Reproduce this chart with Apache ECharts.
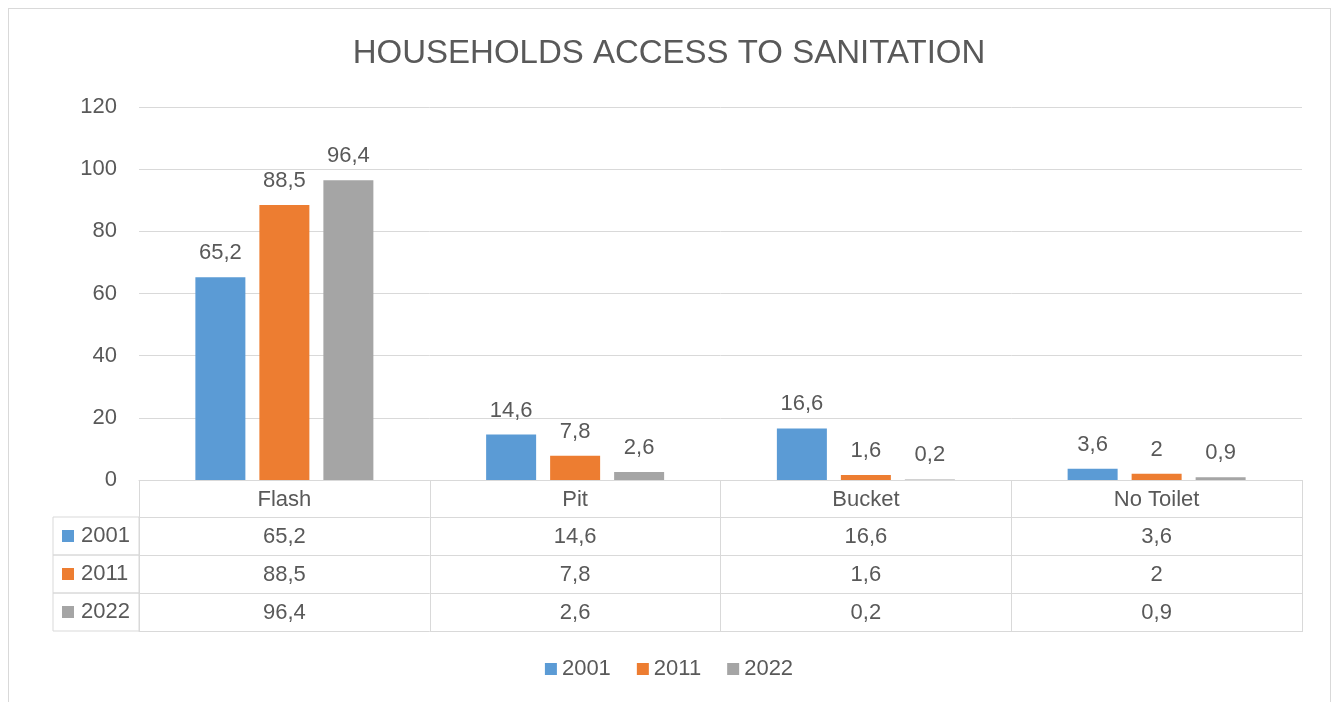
<!DOCTYPE html>
<html>
<head>
<meta charset="utf-8">
<title>Households access to sanitation</title>
<script src="https://cdn.jsdelivr.net/npm/echarts@6/dist/echarts.min.js"></script>
<style>
  html, body { margin: 0; padding: 0; background: #fff; }
  #chart { width: 1338px; height: 702px; }
  #frame { position: absolute; left: 8px; top: 8px; width: 1323px; height: 710px;
           border: 1px solid #d9d9d9; box-sizing: border-box; pointer-events: none; }
</style>
</head>
<body>
<div id="chart"></div>
<div id="frame"></div>
<script>
// data
var categories = ['Flash', 'Pit', 'Bucket', 'No Toilet'];
var years = ['2001', '2011', '2022'];
var v2001 = [65.2, 14.6, 16.6, 3.6];
var v2011 = [88.5, 7.8, 1.6, 2];
var v2022 = [96.4, 2.6, 0.2, 0.9];
var yTicks = [0, 20, 40, 60, 80, 100, 120];

var values = [v2001, v2011, v2022];
var colors = ['#5B9BD5', '#ED7D31', '#A5A5A5'];
var txt = '#595959', line = '#D9D9D9', font = 'Liberation Sans, Arial, sans-serif';
var fs = 22;

// 65.2 -> 65,2
function fmt(v) { return String(v).replace('.', ','); }

var rowH = 38, headH = 37;

var xAxes = [
  { // main axis, ticks make the table's vertical lines
    type: 'category', data: categories, position: 'bottom',
    axisLine: { show: true, lineStyle: { color: line } },
    axisTick: { show: true, length: headH + rowH * 3 + 1, lineStyle: { color: line } },
    axisLabel: { show: false }
  },
  { // header row (category names)
    type: 'category', data: categories, position: 'bottom', offset: headH,
    axisLine: { show: true, lineStyle: { color: line } },
    axisTick: { show: false },
    axisLabel: { inside: true, interval: 0, margin: 6, color: txt, fontSize: fs, fontFamily: font, lineHeight: fs }
  }
];
years.forEach(function (y, i) {
  xAxes.push({
    type: 'category', data: categories, position: 'bottom', offset: headH + rowH * (i + 1),
    axisLine: { show: true, lineStyle: { color: line } },
    axisTick: { show: false },
    axisLabel: {
      inside: true, interval: 0, margin: 7, color: txt, fontSize: fs, fontFamily: font, lineHeight: fs,
      formatter: function (val, idx) { return fmt(values[i][idx]); }
    },
    // left column cell of the data table
    name: '{sq|}{t|' + y + '}',
    nameLocation: 'start',
    nameGap: 86,
    nameTextStyle: {
      align: 'left', verticalAlign: 'bottom',
      padding: [0, 0, 0, 9], lineHeight: rowH,
      borderColor: line, borderWidth: 1,
      rich: {
        sq: { width: 12, height: 12, backgroundColor: colors[i] },
        t: { width: 58, color: txt, fontSize: fs, fontFamily: font, padding: [0, 0, 0, 7] }
      }
    }
  });
});

var series = years.map(function (y, i) {
  return {
    name: y, type: 'bar', xAxisIndex: 0, data: values[i],
    barWidth: 50, barGap: '28%',
    itemStyle: { color: colors[i] },
    label: { show: true, position: 'top', distance: 13, color: txt, fontSize: fs, fontFamily: font,
             formatter: function (p) { return fmt(p.value); } }
  };
});

var chart = echarts.init(document.getElementById('chart'));
chart.setOption({
  animation: false,
  color: colors,
  title: {
    text: 'HOUSEHOLDS ACCESS TO SANITATION', left: 'center', top: 32,
    textStyle: { color: txt, fontSize: 33, fontWeight: 'normal', fontFamily: font }
  },
  legend: {
    data: years, bottom: 17, left: 'center', icon: 'rect', itemWidth: 12, itemHeight: 12, itemGap: 26,
    textStyle: { color: txt, fontSize: fs, fontFamily: font }
  },
  grid: { left: 139, right: 36, top: 107, bottom: 222, containLabel: false },
  xAxis: xAxes,
  yAxis: {
    type: 'value', min: yTicks[0], max: yTicks[yTicks.length - 1], interval: 20,
    axisLine: { show: false }, axisTick: { show: false },
    splitLine: { lineStyle: { color: line } },
    axisLabel: { color: txt, fontSize: fs, fontFamily: font, margin: 22 }
  },
  series: series
});
</script>
</body>
</html>
